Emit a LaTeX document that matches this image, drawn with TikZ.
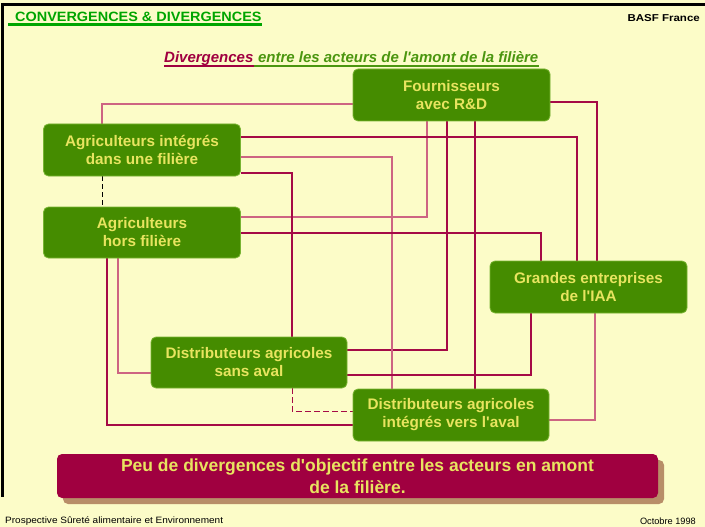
\documentclass[tikz,border=0pt]{standalone}
\usepackage{fontspec}
\setmainfont{Liberation Sans}
\usetikzlibrary{shadows}
\pgfdeclarelayer{back}
\pgfdeclarelayer{wires}
\pgfsetlayers{back,wires,main}
\newcommand{\sq}{\textquotesingle}
\definecolor{bg}{RGB}{252,252,200}
\definecolor{boxgreen}{RGB}{69,140,0}
\definecolor{boxborder}{RGB}{120,180,50}
\definecolor{boxtext}{RGB}{232,228,96}
\definecolor{crim}{RGB}{160,0,64}
\definecolor{linedark}{RGB}{165,10,70}
\definecolor{linelight}{RGB}{205,100,130}
\definecolor{shadowtan}{RGB}{184,142,104}
\definecolor{titlegreen}{RGB}{0,165,0}
\definecolor{subgreen}{RGB}{75,150,15}
\begin{document}
\begin{tikzpicture}[x=1pt,y=-1pt,
  actor/.style={draw=boxborder, line width=0.8pt, fill=boxgreen, rounded corners=5pt,
    text=boxtext, font=\fontsize{15.3}{18}\selectfont\bfseries, align=center,
    inner sep=0pt, minimum width=197pt, minimum height=52pt},
  lk/.style={draw=linelight, line width=1.1pt},
  dk/.style={draw=linedark, line width=1.1pt},
  thk/.style={draw=linedark, line width=2pt},
  dashblack/.style={draw=black, line width=1pt, dash pattern=on 5pt off 3pt},
  dashcrim/.style={draw=linedark, line width=1pt, dash pattern=on 6pt off 3pt},
  concl/.style={fill=crim, rounded corners=5pt, text=boxtext,
    font=\fontsize{17.5}{22}\selectfont\bfseries, align=center, inner sep=0pt,
    minimum width=601pt, minimum height=44pt,
    drop shadow={shadow xshift=6pt, shadow yshift=-6pt, fill=shadowtan, opacity=1}},
  foot/.style={font=\fontsize{9.2}{11}\selectfont, text=black, inner sep=0pt}
]
\useasboundingbox (0,0) rectangle (705,527);
\begin{pgfonlayer}{back}
\fill[bg] (0,0) rectangle (705,527);
\end{pgfonlayer}
% frame
\draw[black, line width=3pt] (2,4.5) -- (705,4.5);
\draw[black, line width=2.2pt] (2.5,3) -- (2.5,497);

% header
\node[anchor=base west, inner sep=0pt, text=titlegreen, font=\fontsize{13.5}{15}\selectfont\bfseries] (title) at (15,21.5) {\scalebox{1.07}[1]{CONVERGENCES \& DIVERGENCES}};
\draw[titlegreen, line width=2.5pt] (8,24.5) -- (title.base east |- 0,24.5);
\node[anchor=base east, inner sep=0pt, font=\fontsize{10}{12}\selectfont\bfseries, text=black] (basf) at (700,21.5) {\scalebox{1.15}[1]{BASF France}};

% subtitle
\node[anchor=base west, inner sep=0pt, text=crim, font=\fontsize{15}{17}\selectfont\bfseries\itshape] (subA) at (164,63) {Divergences};
\node[anchor=base west, inner sep=0pt, text=subgreen, font=\fontsize{15}{17}\selectfont\bfseries\itshape] (subB) at ([xshift=4.2pt]subA.base east) {entre les acteurs de l\sq amont de la filière};
\draw[crim, line width=1.5pt] ([yshift=-3pt]subA.base west) -- ([yshift=-3pt]subA.base east);
\draw[subgreen, line width=1.5pt] ([yshift=-3pt]subA.base east) -- ([yshift=-3pt]subB.base east);

% actors
\node[actor] (F)  at (451.5,95)  {Fournisseurs\\avec R\&D};
\node[actor] (AI) at (142,150)   {Agriculteurs intégrés\\dans une filière};
\node[actor, minimum height=51pt] (AH) at (142,232.5) {Agriculteurs\\hors filière};
\node[actor] (G)  at (588.5,287) {Grandes entreprises\\de l\sq IAA};
\node[actor, minimum width=196pt, minimum height=51pt] (DS) at (249,362.5) {Distributeurs agricoles\\sans aval};
\node[actor, minimum width=196pt] (DI) at (451,415) {Distributeurs agricoles\\intégrés vers l\sq aval};

% connectors, under the boxes
\begin{pgfonlayer}{wires}
\draw[lk] (F.west |- 0,104) -| (AI.north -| 102,0);
\draw[dk] (F.east |- 0,102) -| (G.north -| 597,0);
\draw[lk] (F.south -| 427,0) |- (AH.east |- 0,217);
\draw[dk] (F.south -| 447,0) |- (DS.east |- 0,350);
\draw[dk] (F.south -| 475,0) -- (DI.north -| 475,0);
\draw[thk] (AI.east |- 0,137) -| (G.north -| 577,0);
\draw[lk] (AI.east |- 0,157) -| (DI.north -| 392,0);
\draw[dk] (AI.east |- 0,173) -| (DS.north -| 292,0);
\draw[dk] (AH.east |- 0,233) -| (G.north -| 541,0);
\draw[dk] (AH.south -| 107,0) |- (DI.west |- 0,425);
\draw[lk] (AH.south -| 118,0) |- (DS.west |- 0,373);
\draw[dk] (DS.east |- 0,375) -| (G.south -| 531,0);
\draw[lk] (G.south -| 595,0) |- (DI.east |- 0,420);
\draw[dashblack] (AI.south -| 102,0) -- (AH.north -| 102,0);
\draw[dashcrim] (DS.south -| 292,0) |- (DI.west |- 0,411);
\end{pgfonlayer}

% conclusion
\node[concl] (C) at (357.5,476) {Peu de divergences d\sq objectif entre les acteurs en amont\\de la filière.};

% footer
\node[foot, anchor=west] (f1) at (5,521) {\scalebox{1.09}[1]{Prospective Sûreté alimentaire et Environnement}};
\node[foot, anchor=east] (f2) at (696,521) {Octobre 1998};
\end{tikzpicture}
\end{document}
